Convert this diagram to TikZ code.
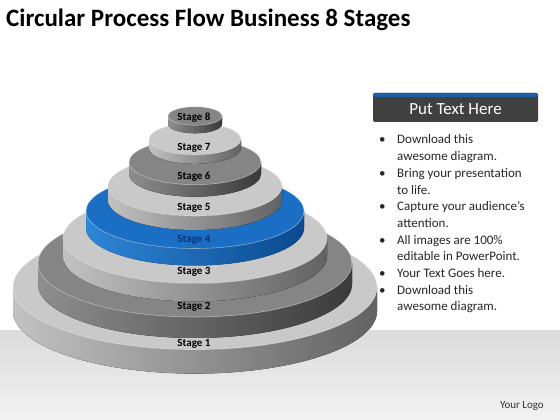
\documentclass[tikz,border=0pt]{standalone}
\usepackage{fontspec}
\setmainfont{Carlito}
\begin{document}
\begin{tikzpicture}[x=1pt,y=1pt]
\definecolor{ltop}{HTML}{C9C9C9}
\definecolor{lsl}{HTML}{C2C2C2}
\definecolor{lsm}{HTML}{979797}
\definecolor{lsr}{HTML}{626262}
\definecolor{dtop}{HTML}{858585}
\definecolor{dsl}{HTML}{8E8E8E}
\definecolor{dsm}{HTML}{686868}
\definecolor{dsr}{HTML}{3A3A3A}
\definecolor{btop}{HTML}{1A6FC4}
\definecolor{bsl}{HTML}{2E86D6}
\definecolor{bsm}{HTML}{1565B8}
\definecolor{bsr}{HTML}{0B4A90}
\definecolor{hdr}{HTML}{404040}
\definecolor{hdrblue}{HTML}{1E5EA8}
\tikzset{
  stagelbl/.style={font=\fontsize{11}{13}\selectfont\bfseries, text=black, inner sep=0pt},
  bodytext/.style={font=\fontsize{13}{16.7}\selectfont, text=black!85, inner sep=0pt, anchor=base west},
}
\newcommand\stagelayer[8]{%
  \fill[left color=#6, middle color=#7, right color=#8]
    ({195-#1},#3) -- ++(0,-#4)
    arc[start angle=180,end angle=360,x radius=#1pt,y radius=#2pt]
    -- ++(0,#4)
    arc[start angle=0,end angle=-180,x radius=#1pt,y radius=#2pt] -- cycle;
  \fill[#5] (195,#3) ellipse[x radius=#1pt,y radius=#2pt];
  \draw[white,opacity=0.45,line width=0.6pt] (195,#3) ellipse[x radius=#1pt,y radius=#2pt];
}
\useasboundingbox (0,0) rectangle (560,420);
\fill[white] (0,0) rectangle (560,420);
\shade[top color=black!14, bottom color=black!5] (0,0) rectangle (560,89);
% layers bottom to top
\stagelayer{182}{62.6}{133}{24}{ltop}{lsl}{lsm}{lsr}
\stagelayer{157}{54}{157}{21}{dtop}{dsl}{dsm}{dsr}
\stagelayer{132}{45.4}{182}{18}{ltop}{lsl}{lsm}{lsr}
\stagelayer{109}{37.5}{209}{17}{btop}{bsl}{bsm}{bsr}
\stagelayer{87}{30}{234}{14}{ltop}{lsl}{lsm}{lsr}
\stagelayer{66}{22.7}{258}{12}{dtop}{dsl}{dsm}{dsr}
\stagelayer{46}{15.8}{281}{9}{ltop}{lsl}{lsm}{lsr}
\stagelayer{27}{9.3}{304}{8}{dtop}{dsl}{dsm}{dsr}
% labels
\node[stagelbl] (s1) at (194,76) {Stage 1};
\node[stagelbl] (s2) at (194,113) {Stage 2};
\node[stagelbl] (s3) at (194,148) {Stage 3};
\node[stagelbl, text={rgb,255:red,16;green,48;blue,110}] (s4) at (194,180) {Stage 4};
\node[stagelbl] (s5) at (194,212) {Stage 5};
\node[stagelbl] (s6) at (194,243) {Stage 6};
\node[stagelbl] (s7) at (194,272) {Stage 7};
\node[stagelbl] (s8) at (194,302) {Stage 8};
% title
\node[anchor=base west, inner sep=0pt, font=\fontsize{25}{28}\selectfont\bfseries] (title) at (6,393) {Circular Process Flow Business 8 Stages};
% header box
\fill[hdr, rounded corners=2pt] (373,298) rectangle (538,327);
\fill[hdrblue, rounded corners=1.5pt] (373,323) rectangle (538,327);
\node[text=white, inner sep=0pt, font=\fontsize{17}{20}\selectfont] (hdrtext) at (455.5,311) {Put Text Here};
% bullets
\foreach \i/\b/\t in {0/1/Download this, 1/0/awesome diagram., 2/1/Bring your presentation, 3/0/to life.,
  4/1/Capture your audience’s, 5/0/attention., 6/1/All images are 100\%, 7/0/editable in PowerPoint.,
  8/1/Your Text Goes here., 9/1/Download this, 10/0/awesome diagram.}{
  \node[bodytext] (line\i) at (397,{276-16.7*\i}) {\t};
  \ifnum\b=1 \node[bodytext] (bul\i) at (379,{276-16.7*\i}) {\textbullet}; \fi
}
% logo
\node[anchor=east, inner sep=0pt, text=black!80, font=\fontsize{11}{13}\selectfont] (logo) at (544,14) {Your Logo};
\end{tikzpicture}
\end{document}
